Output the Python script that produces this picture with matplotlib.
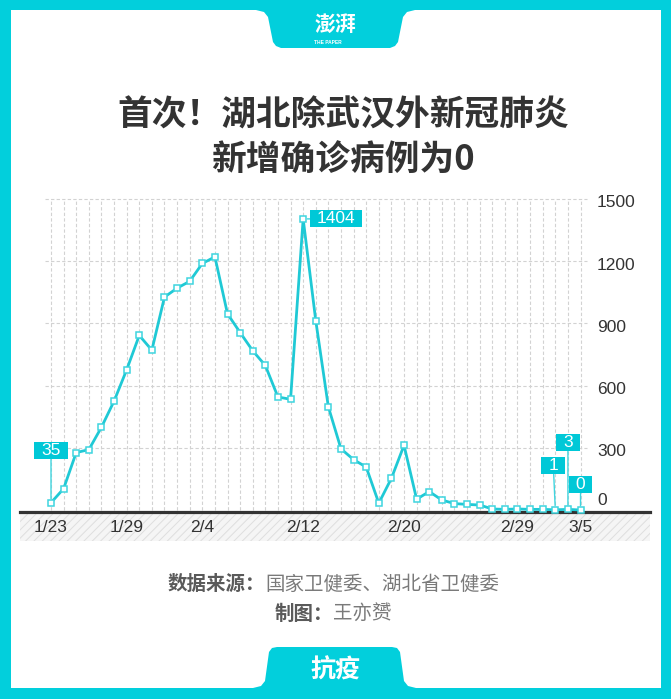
import matplotlib.pyplot as plt
import numpy as np
from matplotlib.patches import Polygon, Rectangle
from matplotlib.path import Path

plt.rcParams['font.family'] = ['Liberation Sans', 'Noto Sans CJK SC']
plt.rcParams['hatch.linewidth'] = 0.7

# data: Hubei (excluding Wuhan) daily new confirmed cases
dates = ['1/23', '1/24', '1/25', '1/26', '1/27', '1/28', '1/29', '1/30', '1/31',
         '2/1', '2/2', '2/3', '2/4', '2/5', '2/6', '2/7', '2/8', '2/9', '2/10',
         '2/11', '2/12', '2/13', '2/14', '2/15', '2/16', '2/17', '2/18', '2/19',
         '2/20', '2/21', '2/22', '2/23', '2/24', '2/25', '2/26', '2/27', '2/28',
         '2/29', '3/1', '3/2', '3/3', '3/4', '3/5']
cases = [35, 103, 277, 291, 399, 525, 676, 842, 771,
         1027, 1070, 1103, 1189, 1221, 946, 856, 768, 697, 545,
         534, 1404, 913, 497, 295, 243, 207, 33, 153,
         312, 52, 89, 48, 31, 27, 24, 5, 3,
         5, 3, 3, 1, 3, 0]
tick_dates = ['1/23', '1/29', '2/4', '2/12', '2/20', '2/29', '3/5']
y_ticks = [0, 300, 600, 900, 1200, 1500]
callouts = ['1/23', '2/12', '3/3', '3/4', '3/5']

title_lines = ['首次！湖北除武汉外新冠肺炎', '新增确诊病例为0']
source_label, source_text = '数据来源：', '国家卫健委、湖北省卫健委'
author_label, author_text = '制图：', '王亦赟'

CYAN = '#02cfdc'
LINE = '#1fc9d5'
BOX = '#00c8d7'
CJK = 'Noto Sans CJK SC'

W, H = 671, 699
fig = plt.figure(figsize=(W / 100, H / 100), dpi=100)

# background / frame, in pixel coordinates
bg = fig.add_axes([0, 0, 1, 1], zorder=0)
bg.set_xlim(0, W)
bg.set_ylim(H, 0)
bg.axis('off')
bg.add_patch(Rectangle((0, 0), W, H, fc=CYAN, ec='none'))
bg.add_patch(Rectangle((11, 10), 650, 678, fc='white', ec='none'))
top_tab = [(256, 10), (264, 12), (268, 17), (273, 42), (276, 46), (281, 48),
           (390, 48), (395, 46), (398, 42), (403, 17), (407, 12), (415, 10)]
bot_tab = [(253, 688), (261, 686), (265, 681), (269, 652), (272, 648), (277, 647),
           (392, 647), (397, 648), (400, 652), (404, 681), (408, 686), (416, 688)]
bg.add_patch(Polygon(top_tab, closed=True, fc=CYAN, ec='none'))
bg.add_patch(Polygon(bot_tab, closed=True, fc=CYAN, ec='none'))
bg.text(335, 24, '澎湃', family=CJK, fontsize=15, fontweight='bold', color='white',
        ha='center', va='center')
bg.text(328, 43, 'THE PAPER', fontsize=3.5, fontweight='bold', color='white',
        ha='center', va='center')
bg.text(335, 670, '抗疫', family=CJK, fontsize=18, fontweight='bold', color='white',
        ha='center', va='center')

# title
for txt, y in zip(title_lines, [115, 160]):
    bg.text(343, y, txt, family=CJK, fontsize=25, fontweight='bold', color='#333333',
            ha='center', va='center')

# footer
bg.text(265, 584, source_label, family=CJK, fontsize=14, fontweight='bold',
        color='#5a5a5a', ha='right', va='center')
bg.text(265, 584, source_text, family=CJK, fontsize=14, color='#7a7a7a',
        ha='left', va='center')
bg.text(333, 614, author_label, family=CJK, fontsize=14, fontweight='bold',
        color='#5a5a5a', ha='right', va='center')
bg.text(333, 614, author_text, family=CJK, fontsize=14, color='#7a7a7a',
        ha='left', va='center')

# hatched band under the x axis
bg.add_patch(Rectangle((20, 513), 630, 28, fc='#f5f5f5', ec='#dedede', lw=0,
                       hatch='////'))

# chart
ax = fig.add_axes([20 / W, (H - 512) / H, 630 / W, 322 / H], zorder=1)
ax.patch.set_alpha(0)
x = np.arange(len(dates))
ax.set_xlim(-2.459, 47.51)
ax.set_ylim(-9.65, 1543.4)

ax.vlines(x, 0, max(y_ticks), colors='#d2d2d2', linestyles=(0, (3, 2)), lw=0.8, zorder=1)
ax.hlines(y_ticks[1:], -0.5, len(dates) - 0.5, colors='#d2d2d2',
          linestyles=(0, (3, 2)), lw=0.8, zorder=1)

ax.plot(x, cases, color=LINE, lw=2, marker='s', ms=5, mfc='white', mec='#3fd5df',
        mew=1.1, clip_on=False, zorder=5)

for s in ['top', 'left', 'right']:
    ax.spines[s].set_visible(False)
ax.spines['bottom'].set_linewidth(2.3)
ax.spines['bottom'].set_color('#333333')
ax.spines['bottom'].set_zorder(3)

ax.set_xticks([dates.index(d) for d in tick_dates])
ax.set_xticklabels(tick_dates, fontsize=12.5, color='#333333')
ax.tick_params(axis='x', length=0, pad=6)
ax.set_yticks([])

for v in y_ticks:
    dy = 9 if v == 0 else -4
    ax.annotate(str(v), xy=(43.31, v), xytext=(0, dy), textcoords='offset pixels',
                ha='left', va='center', fontsize=12.5, color='#333333')


def label_box(x0, y0, width, height, mutation_size):
    hp, vp = 7, 1
    return Path([(x0 - hp, y0 - vp), (x0 + width + hp, y0 - vp),
                 (x0 + width + hp, y0 + height + vp), (x0 - hp, y0 + height + vp),
                 (x0 - hp, y0 - vp)], closed=True)


offsets = {'1/23': (0, 52), '2/12': (33, 0), '3/3': (-2, 44), '3/4': (0, 67), '3/5': (0, 25)}
for d in callouts:
    i = dates.index(d)
    ax.annotate(str(cases[i]), xy=(i, cases[i]), xytext=offsets[d],
                textcoords='offset pixels', ha='center', va='center',
                fontsize=12.5, color='white', zorder=6,
                bbox=dict(boxstyle=label_box, fc=BOX, ec='none'),
                arrowprops=dict(arrowstyle='-', color='#3fd5df', lw=1,
                                shrinkA=0, shrinkB=3))

fig.savefig('out.png', dpi=100)
